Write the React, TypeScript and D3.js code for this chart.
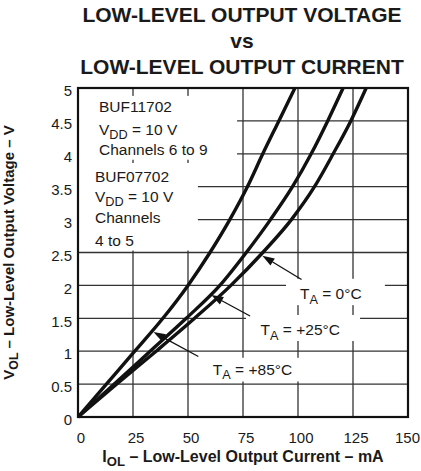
import { useEffect, useRef } from 'react'
import * as d3 from 'd3'

const WIDTH = 421
const HEIGHT = 471
const FONT = '"Liberation Sans", Arial, Helvetica, sans-serif'

const titleLines = ['LOW-LEVEL OUTPUT VOLTAGE', 'vs', 'LOW-LEVEL OUTPUT CURRENT']

const currentTicks = [0, 25, 50, 75, 100, 125, 150]
const voltageTicks = [0, 0.5, 1, 1.5, 2, 2.5, 3, 3.5, 4, 4.5, 5]
const voltageTickLabels = ['0', '0.5', '1', '1.5', '2', '2.5', '3', '3.5', '4', '4.5', '5']

// V_OL rows (V) and the current (mA) at that voltage
const voltage = [0, 0.5, 1, 1.5, 2, 2.5, 3, 3.5, 4, 4.5, 5]
const current85 = [0, 12.9, 25.8, 38.6, 50, 60, 69, 77, 84, 91.3, 98.6]
const current25 = [0, 16.5, 32.8, 49.2, 64.5, 76.5, 87.5, 97.5, 106, 113.5, 120.5]
const current0 = [0, 17.5, 35.5, 53, 69.5, 84, 97, 107.5, 116, 124, 131]

const temperatures = ['+85°C', '+25°C', '0°C']

type Part = [string, boolean] // text, subscript?

export default function App() {
  const svgRef = useRef<SVGSVGElement>(null)

  useEffect(() => {
    if (!svgRef.current) return
    const svg = d3.select(svgRef.current)
    svg.selectAll('*').remove()

    const margin = { top: 88, right: 13, bottom: 54, left: 78 }

    const x = d3.scaleLinear().domain([0, 150]).range([margin.left, WIDTH - margin.right])
    const y = d3.scaleLinear().domain([0, 5]).range([HEIGHT - margin.bottom, margin.top])

    svg.append('rect').attr('width', WIDTH).attr('height', HEIGHT).attr('fill', '#fff')

    // writes a line of text with subscript parts
    const subText = (
      g: d3.Selection<any, unknown, null, undefined>,
      px: number,
      py: number,
      parts: Part[],
      size: number,
      weight = 'normal',
      anchor = 'start'
    ) => {
      const t = g.append('text')
        .attr('x', px)
        .attr('y', py)
        .attr('text-anchor', anchor)
        .style('font-family', FONT)
        .style('font-size', `${size}px`)
        .style('font-weight', weight)
        .attr('fill', '#1a1a1a')
      let shifted = false
      parts.forEach(([s, sub]) => {
        const span = t.append('tspan').text(s)
        if (sub && !shifted) {
          span.attr('dy', size * 0.28).style('font-size', `${size * 0.82}px`)
          shifted = true
        } else if (!sub && shifted) {
          span.attr('dy', -size * 0.28)
          shifted = false
        }
      })
      return t
    }

    // Title
    titleLines.forEach((line, i) => {
      svg.append('text')
        .attr('x', 242)
        .attr('y', 21.7 + i * 26.2)
        .attr('text-anchor', 'middle')
        .style('font-family', FONT)
        .style('font-size', '21px')
        .style('font-weight', 'bold')
        .attr('fill', '#1a1a1a')
        .text(line)
    })

    // Grid
    const grid = svg.append('g').attr('stroke', '#333').attr('stroke-width', 1.3)
    grid.selectAll('.vgrid')
      .data(currentTicks)
      .enter()
      .append('line')
      .attr('x1', d => x(d))
      .attr('x2', d => x(d))
      .attr('y1', y(0))
      .attr('y2', y(5))
    grid.selectAll('.hgrid')
      .data(voltageTicks)
      .enter()
      .append('line')
      .attr('x1', x(0))
      .attr('x2', x(150))
      .attr('y1', d => y(d))
      .attr('y2', d => y(d))

    // White backgrounds behind the annotations (in data units)
    const labelBoxes = [
      { i0: 0, i1: 72.3, v0: 3.91, v1: 4.88 },
      { i0: 0, i1: 54.5, v0: 2.53, v1: 3.86 },
      { i0: 94.1, i1: 139.5, v0: 1.7, v1: 2.1 },
      { i0: 75.9, i1: 128.2, v0: 1.155, v1: 1.55 },
      { i0: 55.5, i1: 101.8, v0: 0.54, v1: 0.9 },
    ]
    svg.selectAll('.label-box')
      .data(labelBoxes)
      .enter()
      .append('rect')
      .attr('x', d => x(d.i0) + 1)
      .attr('y', d => y(d.v1))
      .attr('width', d => x(d.i1) - x(d.i0) - 1)
      .attr('height', d => y(d.v0) - y(d.v1))
      .attr('fill', '#fff')

    // Curves
    const series = [current85, current25, current0].map((cur, k) => ({
      name: temperatures[k],
      points: voltage.map((v, j) => ({ i: cur[j], v })),
    }))
    const line = d3.line<{ i: number; v: number }>()
      .x(d => x(d.i))
      .y(d => y(d.v))
      .curve(d3.curveMonotoneX)

    svg.append('g')
      .selectAll('path')
      .data(series)
      .enter()
      .append('path')
      .attr('d', d => line(d.points))
      .attr('fill', 'none')
      .attr('stroke', '#111')
      .attr('stroke-width', 3.4)
      .attr('stroke-linejoin', 'round')

    // Frame
    svg.append('rect')
      .attr('x', x(0))
      .attr('y', y(5))
      .attr('width', x(150) - x(0))
      .attr('height', y(0) - y(5))
      .attr('fill', 'none')
      .attr('stroke', '#111')
      .attr('stroke-width', 2.2)

    // Tick labels
    const last = currentTicks[currentTicks.length - 1]
    svg.selectAll('.xlabel')
      .data(currentTicks)
      .enter()
      .append('text')
      .attr('x', d => (d === last ? WIDTH - 1 : x(d) + 3))
      .attr('y', 443)
      .attr('text-anchor', d => (d === last ? 'end' : 'middle'))
      .style('font-family', FONT)
      .style('font-size', '15px')
      .attr('fill', '#1a1a1a')
      .text(d => d)

    svg.selectAll('.ylabel')
      .data(voltageTicks)
      .enter()
      .append('text')
      .attr('x', 72)
      .attr('y', d => y(d) + 3)
      .attr('dy', '0.35em')
      .attr('text-anchor', 'end')
      .style('font-family', FONT)
      .style('font-size', '15px')
      .attr('fill', '#1a1a1a')
      .text((d, i) => voltageTickLabels[i])

    // Axis titles
    subText(svg, 243, 462, [['I', false], ['OL', true], [' – Low-Level Output Current – mA', false]], 16, 'bold', 'middle')
    const yTitle = subText(svg, 0, 0, [['V', false], ['OL', true], [' – Low-Level Output Voltage – V', false]], 15, 'bold', 'middle')
    yTitle.attr('transform', `translate(14, ${(y(0) + y(5)) / 2}) rotate(-90)`)

    // Device notes
    const notes: { px: number; py: number; parts: Part[] }[] = [
      { px: 99, py: 112, parts: [['BUF11702', false]] },
      { px: 99, py: 135, parts: [['V', false], ['DD', true], [' = 10 V', false]] },
      { px: 99, py: 154.5, parts: [['Channels 6 to 9', false]] },
      { px: 95, py: 181.7, parts: [['BUF07702', false]] },
      { px: 95, py: 201.7, parts: [['V', false], ['DD', true], [' = 10 V', false]] },
      { px: 95, py: 223.3, parts: [['Channels', false]] },
      { px: 95, py: 245.7, parts: [['4 to 5', false]] },
    ]
    notes.forEach(n => subText(svg, n.px, n.py, n.parts, 15.5))

    // Temperature callouts (data units)
    const callouts = [
      { name: temperatures[2], textI: 100.9, textV: 1.786, tipI: 83.8, tipV: 2.45, tailI: 101.6, tailV: 2.09 },
      { name: temperatures[1], textI: 83, textV: 1.243, tipI: 60.6, tipV: 1.854, tailI: 78.2, tailV: 1.535 },
      { name: temperatures[0], textI: 61.3, textV: 0.638, tipI: 34.3, tipV: 1.29, tailI: 54.7, tailV: 0.92 },
    ]
    callouts.forEach(c => {
      subText(svg, x(c.textI), y(c.textV), [['T', false], ['A', true], [` = ${c.name}`, false]], 15.5)

      const tx = x(c.tipI), ty = y(c.tipV)
      const sx = x(c.tailI), sy = y(c.tailV)
      const ang = Math.atan2(sy - ty, sx - tx)
      const len = 12
      const half = 4.2
      const bx = tx + Math.cos(ang) * len
      const by = ty + Math.sin(ang) * len
      svg.append('line')
        .attr('x1', sx).attr('y1', sy)
        .attr('x2', bx).attr('y2', by)
        .attr('stroke', '#111')
        .attr('stroke-width', 1.3)
      const p1 = [bx + Math.sin(ang) * half, by - Math.cos(ang) * half]
      const p2 = [bx - Math.sin(ang) * half, by + Math.cos(ang) * half]
      svg.append('polygon')
        .attr('points', `${tx},${ty} ${p1[0]},${p1[1]} ${p2[0]},${p2[1]}`)
        .attr('fill', '#111')
    })
  }, [])

  return (
    <svg
      ref={svgRef}
      width={WIDTH}
      height={HEIGHT}
      style={{ position: 'absolute', left: 0, top: 0 }}
    />
  )
}
